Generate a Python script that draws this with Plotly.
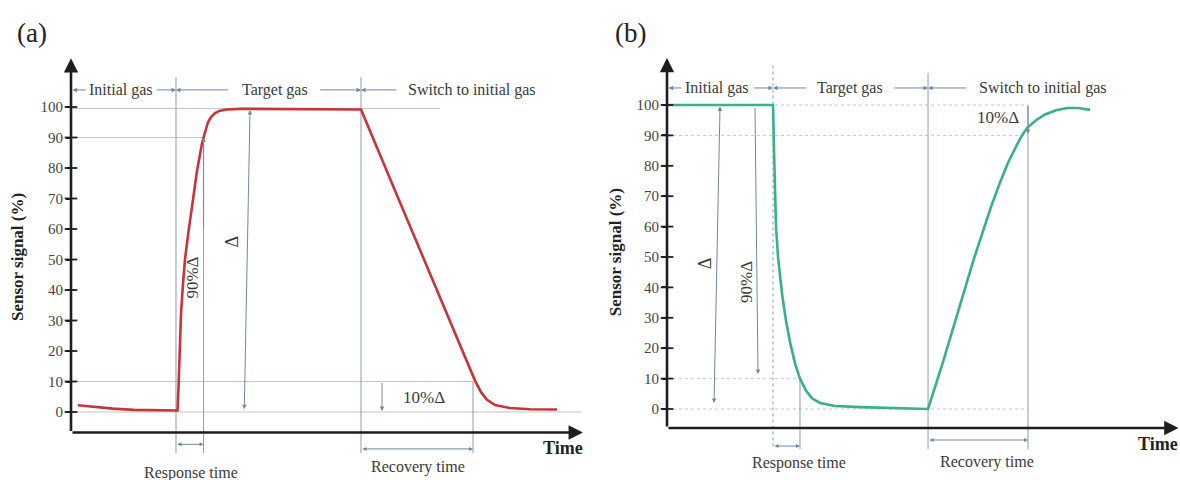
import plotly.graph_objects as go

# ---------------- data ----------------
# Panel (a): signal rises when target gas is introduced
a_time = [1.3, 4, 8, 12, 16, 20.29, 20.48, 20.67, 20.95, 21.33, 21.71, 22.29, 22.86,
          23.43, 24.0, 24.57, 24.95, 25.33, 25.71, 26.10, 26.67, 27.43, 28.38, 29.71,
          32.19, 43.6, 55.24, 62.67, 70.29, 75.05, 76.95, 78.1, 79.24, 80.76, 83.62,
          87.43, 92.57]
a_signal = [2.2, 1.7, 1.1, 0.7, 0.5, 0.5, 8, 20, 32, 42, 50, 58, 66,
            72, 79, 85, 88, 90.5, 93, 95, 96.7, 98, 98.8, 99.2,
            99.4, 99.3, 99.2, 68.7, 37.3, 17.8, 10.3, 6.5, 4.0, 2.3, 1.3,
            0.9, 0.8]
a_events = {"on": 20, "t90": 25.25, "off": 55.24, "t10": 76.57}

# Panel (b): signal drops when target gas is introduced
b_time = [0, 20, 20.19, 20.38, 20.57, 20.94, 21.70, 22.45, 23.21, 24.15, 25.09,
          26.23, 27.36, 28.87, 31.70, 36.42, 43.96, 49.25, 52.08, 53.96, 55.85,
          57.74, 59.62, 61.13, 62.83, 64.34, 66.04, 66.98, 67.92, 69.62, 71.32,
          73.40, 75.47, 77.55, 79.81]
b_signal = [100, 100, 85, 70, 60, 50, 38, 29, 22, 15, 10,
            6, 3.5, 2, 1, 0.6, 0.3, 0, 15.5, 26.5, 37.5,
            48.5, 58.5, 66.5, 74.5, 81, 87, 90, 92.4, 95, 96.9,
            98.3, 99.0, 99.0, 98.4]
b_events = {"on": 20, "t90": 25.09, "off": 49.25, "t10": 68.11}

y_ticks = [0, 10, 20, 30, 40, 50, 60, 70, 80, 90, 100]
phase_labels = ["Initial gas", "Target gas", "Switch to initial gas"]

# ---------------- styles ----------------
SERIF = "Liberation Serif"
TXT = "#3a3a3a"
AXC = "#1e1e1e"
GRID = "#bfc7cf"
VLINE = "#8d9fb2"
ARR = "#6f88a2"
RED = "#c8343a"
GREEN = "#38b187"

fig = go.Figure()

fig.add_trace(go.Scatter(x=a_time, y=a_signal, mode="lines", xaxis="x", yaxis="y",
                         line=dict(color=RED, width=2.6), hoverinfo="skip"))
fig.add_trace(go.Scatter(x=b_time, y=b_signal, mode="lines", xaxis="x2", yaxis="y2",
                         line=dict(color=GREEN, width=2.6), hoverinfo="skip"))

# crossing tick marks on the y axes
for xa, ya in (("x", "y"), ("x2", "y2")):
    fig.add_trace(go.Scatter(x=[0] * len(y_ticks), y=y_ticks, mode="markers",
                             xaxis=xa, yaxis=ya, hoverinfo="skip",
                             marker=dict(symbol="line-ew", size=9,
                                         line=dict(color=AXC, width=1.8))))

shapes = []
annots = []


def hline(xr, yr, y, x1, dash="solid", color=GRID, x0=0):
    shapes.append(dict(type="line", xref=xr, yref=yr, x0=x0, x1=x1, y0=y, y1=y,
                       line=dict(color=color, width=1, dash=dash), layer="below"))


def vline(xr, yr, x, y0, y1, dash="solid", color=VLINE):
    shapes.append(dict(type="line", xref=xr, yref=yr, x0=x, x1=x, y0=y0, y1=y1,
                       line=dict(color=color, width=1, dash=dash), layer="below"))


def arrow(xr, yr, x, y, ax, ay, color=ARR, width=1, head=2, size=0.9, both=False):
    annots.append(dict(xref=xr, yref=yr, axref=xr, ayref=yr, x=x, y=y, ax=ax, ay=ay,
                       text="", showarrow=True, arrowhead=head, arrowsize=size,
                       arrowwidth=width, arrowcolor=color, startarrowhead=head,
                       startarrowsize=size, standoff=0, startstandoff=0,
                       arrowside="end+start" if both else "end"))


def text(xr, yr, x, y, s, size=16, angle=0, bold=False, color=TXT):
    annots.append(dict(xref=xr, yref=yr, x=x, y=y, text=f"<b>{s}</b>" if bold else s,
                       showarrow=False, textangle=angle,
                       font=dict(family=SERIF, size=size, color=color)))


# ---------------- panel (a) ----------------
ea = a_events
xa_ax = -6.72
hline("x", "y", 99.5, 70.3)
hline("x", "y", 90, ea["t90"])
hline("x", "y", 10, ea["t10"])
hline("x", "y", 0, 97.3)
vline("x", "y", ea["on"], 109.8, -13.5)
vline("x", "y", ea["t90"], 90, -13.5)
vline("x", "y", ea["off"], 109.8, -13.5)
vline("x", "y", ea["t10"], 10, -13.5)
# axes
arrow("x", "y", 0, 116.0, 0, xa_ax, color=AXC, width=2.6, head=2, size=1.1)
arrow("x", "y", 97.5, xa_ax, 0, xa_ax, color=AXC, width=2.6, head=2, size=1.1)
# phase labels
ya_top = 105.6
arrow("x", "y", 0.3, ya_top, 3.1, ya_top)
arrow("x", "y", ea["on"], ya_top, 16.1, ya_top)
text("x", "y", 9.6, ya_top, phase_labels[0])
arrow("x", "y", ea["on"], ya_top, 30.2, ya_top)
arrow("x", "y", ea["off"], ya_top, 47.2, ya_top)
text("x", "y", 38.8, ya_top, phase_labels[1])
arrow("x", "y", ea["off"], ya_top, 62.3, ya_top)
text("x", "y", 76.4, ya_top, phase_labels[2])
# delta arrows
arrow("x", "y", 34.1, 99.0, 33.0, 0.4, both=True)
text("x", "y", 30.7, 56, "Δ", size=18, angle=-90)
arrow("x", "y", ea["t90"], 90, ea["t90"], 60)
text("x", "y", 23.2, 44, "90%Δ", size=17, angle=-90)
arrow("x", "y", 59.24, 0.3, 59.24, 10)
text("x", "y", 67.3, 4.6, "10%Δ", size=17)
# time spans
arrow("x", "y", ea["t90"], -10.6, ea["on"], -10.6, both=True, size=0.8)
text("x", "y", 22.8, -19.9, "Response time")
arrow("x", "y", ea["t10"], -12.1, ea["off"], -12.1, both=True, size=0.8)
text("x", "y", 66.1, -18.0, "Recovery time")
text("x", "y", 93.7, -11.8, "Time", size=18, bold=True, color="#222")
text("x", "y", -10.3, 50.8, "Sensor signal (%)", size=17, angle=-90, bold=True, color="#222")
text("x", "y", -7.4, 124.3, "(a)", size=27, color="#222")

# ---------------- panel (b) ----------------
eb = b_events
xb_ax = -6.25
hline("x2", "y2", 100, eb["t10"], dash="dot")
hline("x2", "y2", 90, eb["t10"], dash="dot")
hline("x2", "y2", 10, eb["t90"], dash="dot")
hline("x2", "y2", 0, eb["t10"], dash="dot")
vline("x2", "y2", eb["on"], 113, -13.3, dash="dot")
vline("x2", "y2", eb["t90"], 10, -13.3)
vline("x2", "y2", eb["off"], 110.5, -13.3)
vline("x2", "y2", eb["t10"], 100, -13.3)
arrow("x2", "y2", 0, 115.5, 0, xb_ax, color=AXC, width=2.6, head=2, size=1.1)
arrow("x2", "y2", 96.5, xb_ax, 0, xb_ax, color=AXC, width=2.6, head=2, size=1.1)
yb_top = 105.6
arrow("x2", "y2", 0.3, yb_top, 3.0, yb_top)
arrow("x2", "y2", eb["on"], yb_top, 16.1, yb_top)
text("x2", "y2", 9.5, yb_top, phase_labels[0])
arrow("x2", "y2", eb["on"], yb_top, 26.6, yb_top)
arrow("x2", "y2", eb["off"], yb_top, 42.6, yb_top)
text("x2", "y2", 34.6, yb_top, phase_labels[1])
arrow("x2", "y2", eb["off"], yb_top, 56.8, yb_top)
text("x2", "y2", 70.9, yb_top, phase_labels[2])
arrow("x2", "y2", 10.0, 99.5, 8.87, 1.5, both=True)
text("x2", "y2", 7.2, 48, "Δ", size=18, angle=-90)
arrow("x2", "y2", 17.17, 11.5, 16.6, 99.5)
text("x2", "y2", 15.1, 41.8, "90%Δ", size=17, angle=-90)
arrow("x2", "y2", eb["t10"], 90.5, eb["t10"], 100)
text("x2", "y2", 62.4, 96, "10%Δ", size=17)
arrow("x2", "y2", eb["t90"], -12.2, eb["on"], -12.2, both=True, size=0.8)
text("x2", "y2", 24.9, -17.8, "Response time")
arrow("x2", "y2", eb["t10"], -10.2, eb["off"], -10.2, both=True, size=0.8)
text("x2", "y2", 60.4, -17.4, "Recovery time")
text("x2", "y2", 92.6, -11.5, "Time", size=18, bold=True, color="#222")
text("x2", "y2", -9.8, 51.6, "Sensor signal (%)", size=17, angle=-90, bold=True, color="#222")
text("x2", "y2", -6.8, 123.7, "(b)", size=27, color="#222")

yaxis_common = dict(tickvals=y_ticks, ticks="outside", ticklen=5, tickwidth=1.6,
                    tickcolor=AXC, showline=False, showgrid=False, zeroline=False,
                    tickfont=dict(family=SERIF, size=15, color="#444"),
                    anchor="free", domain=[0, 1], fixedrange=True)

fig.update_layout(
    width=1180, height=480, autosize=False,
    margin=dict(l=0, r=0, t=0, b=0),
    paper_bgcolor="white", plot_bgcolor="white", showlegend=False,
    xaxis=dict(domain=[0, 0.5], range=[-13.524, 98.857], visible=False),
    xaxis2=dict(domain=[0.5, 1], range=[-14.53, 96.79], visible=False),
    yaxis=dict(range=[-22.295, 135.08], position=71 / 1180, **yaxis_common),
    yaxis2=dict(range=[-23.36, 134.54], position=667 / 1180, **yaxis_common),
    shapes=shapes, annotations=annots,
)

fig.write_html("out.html")
